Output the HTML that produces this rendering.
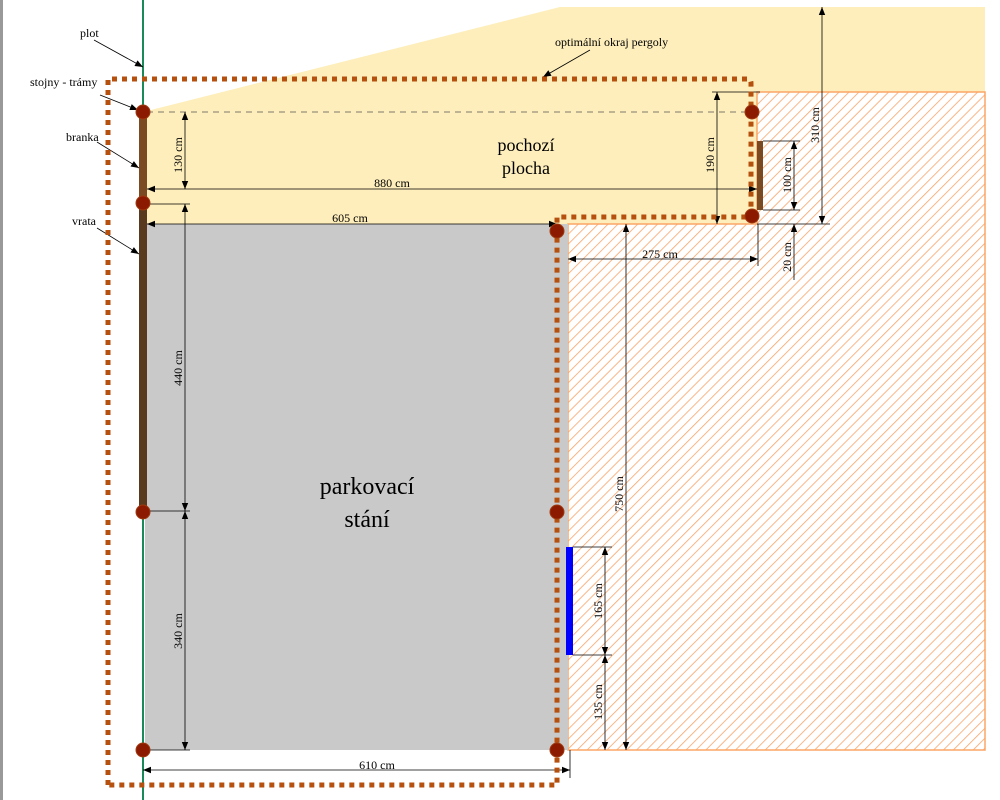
<!DOCTYPE html>
<html><head><meta charset="utf-8"><style>html,body{margin:0;padding:0;background:#fff}svg{display:block}</style></head><body>
<svg width="1000" height="800" viewBox="0 0 1000 800" xmlns="http://www.w3.org/2000/svg" font-family="Liberation Serif, serif">
<defs>
<pattern id="h" patternUnits="userSpaceOnUse" width="7" height="7" patternTransform="rotate(45)">
<rect width="7" height="7" fill="#fff"/><line x1="0" y1="0" x2="0" y2="7" stroke="#f9a46a" stroke-width="1.6"/></pattern>
<marker id="a" viewBox="0 0 10 10" refX="10" refY="5" markerWidth="10" markerHeight="8" orient="auto-start-reverse" markerUnits="userSpaceOnUse"><path d="M0,1 L10,5 L0,9z" fill="#000"/></marker>
</defs>
<rect x="0" y="0" width="3" height="800" fill="#999"/>
<polygon points="143,112 560,7 985,7 985,92 757,92 757,224 143,224" fill="#feeebb"/>
<polygon points="757,92 985,92 985,750 568,750 568,224 757,224" fill="url(#h)" stroke="#fba565" stroke-width="1.5"/>
<rect x="145" y="224" width="423" height="526" fill="#c9c9c9"/>
<line x1="143" y1="0" x2="143" y2="800" stroke="#1a8a5a" stroke-width="2"/>
<rect x="139" y="112" width="8" height="92" fill="#7a4a22"/>
<rect x="139" y="204" width="8" height="307" fill="#5a3a1e"/>
<rect x="757" y="141" width="6" height="69" fill="#7a4a22"/>
<rect x="566" y="547" width="7" height="108" fill="#0000ff"/>
<g stroke="#000" stroke-width="0.8" fill="none">
<line x1="147" y1="112" x2="757" y2="112" stroke-dasharray="6,5" stroke="#555"/>
<line x1="185" y1="112" x2="185" y2="189" marker-start="url(#a)" marker-end="url(#a)"/>
<line x1="147" y1="204" x2="190" y2="204"/>
<line x1="185" y1="204" x2="185" y2="224" marker-start="url(#a)"/>
<line x1="147" y1="189" x2="757" y2="189" marker-start="url(#a)" marker-end="url(#a)"/>
<line x1="147" y1="224" x2="557" y2="224" marker-start="url(#a)" marker-end="url(#a)"/>
<line x1="712" y1="92" x2="760" y2="92"/>
<line x1="717" y1="92" x2="717" y2="224" marker-start="url(#a)" marker-end="url(#a)"/>
<line x1="763" y1="141" x2="800" y2="141"/><line x1="763" y1="210" x2="800" y2="210"/>
<line x1="794" y1="141" x2="794" y2="210" marker-start="url(#a)" marker-end="url(#a)"/>
<line x1="757" y1="224" x2="830" y2="224"/>
<line x1="822" y1="7" x2="822" y2="224" marker-start="url(#a)" marker-end="url(#a)"/>
<line x1="794" y1="224" x2="794" y2="280" marker-start="url(#a)"/>
<line x1="758" y1="224" x2="758" y2="266"/>
<line x1="568" y1="259" x2="758" y2="259" marker-start="url(#a)" marker-end="url(#a)"/>
<line x1="626" y1="224" x2="626" y2="750" marker-start="url(#a)" marker-end="url(#a)"/>
<line x1="185" y1="224" x2="185" y2="511" marker-end="url(#a)"/>
<line x1="147" y1="511" x2="190" y2="511"/><line x1="147" y1="750" x2="190" y2="750"/>
<line x1="185" y1="511" x2="185" y2="750" marker-start="url(#a)" marker-end="url(#a)"/>
<line x1="573" y1="547" x2="612" y2="547"/><line x1="573" y1="655" x2="612" y2="655"/>
<line x1="605" y1="547" x2="605" y2="655" marker-start="url(#a)" marker-end="url(#a)"/>
<line x1="605" y1="655" x2="605" y2="750" marker-start="url(#a)" marker-end="url(#a)"/>
<line x1="570" y1="750" x2="570" y2="778"/>
<line x1="143" y1="770" x2="570" y2="770" marker-start="url(#a)" marker-end="url(#a)"/>
<line x1="94" y1="40" x2="143" y2="67" marker-end="url(#a)"/>
<line x1="100" y1="95" x2="138" y2="110" marker-end="url(#a)"/>
<line x1="97" y1="142" x2="139" y2="168" marker-end="url(#a)"/>
<line x1="97" y1="228" x2="139" y2="254" marker-end="url(#a)"/>
<line x1="590" y1="50" x2="543" y2="77" marker-end="url(#a)"/>
</g>
<path d="M108,785 L108,79 L747,79 Q751,79 751,83 L751,217 L557,217 L557,785 Z" fill="none" stroke="#b5500f" stroke-width="5" stroke-dasharray="5,5"/>
<g fill="#8b1a00" stroke="#a03a10" stroke-width="1">
<circle cx="143" cy="112" r="7"/><circle cx="143" cy="203" r="7"/><circle cx="143" cy="512" r="7"/><circle cx="143" cy="750" r="7"/>
<circle cx="557" cy="231" r="7"/><circle cx="557" cy="512" r="7"/><circle cx="557" cy="750" r="7"/>
<circle cx="752" cy="112" r="7"/><circle cx="752" cy="216" r="7"/>
</g>
<g font-size="12" fill="#000">
<text x="80" y="37">plot</text>
<text x="30" y="86">stojny - trámy</text>
<text x="66" y="141">branka</text>
<text x="72" y="225">vrata</text>
<text x="555" y="46">optimální okraj pergoly</text>
<text x="392" y="187" text-anchor="middle">880 cm</text>
<text x="350" y="222" text-anchor="middle">605 cm</text>
<text x="660" y="258" text-anchor="middle">275 cm</text>
<text x="377" y="769" text-anchor="middle">610 cm</text>
<text transform="translate(182,155) rotate(-90)" text-anchor="middle">130 cm</text>
<text transform="translate(182,368) rotate(-90)" text-anchor="middle">440 cm</text>
<text transform="translate(182,631) rotate(-90)" text-anchor="middle">340 cm</text>
<text transform="translate(714,155) rotate(-90)" text-anchor="middle">190 cm</text>
<text transform="translate(791,175) rotate(-90)" text-anchor="middle">100 cm</text>
<text transform="translate(819,125) rotate(-90)" text-anchor="middle">310 cm</text>
<text transform="translate(791,257) rotate(-90)" text-anchor="middle">20 cm</text>
<text transform="translate(623,494) rotate(-90)" text-anchor="middle">750 cm</text>
<text transform="translate(602,601) rotate(-90)" text-anchor="middle">165 cm</text>
<text transform="translate(602,702) rotate(-90)" text-anchor="middle">135 cm</text>
</g>
<g text-anchor="middle" fill="#000">
<text x="526" y="151" font-size="18">pochozí</text>
<text x="526" y="174" font-size="18">plocha</text>
<text x="367" y="494" font-size="24">parkovací</text>
<text x="367" y="527" font-size="24">stání</text>
</g>
</svg>
</body></html>
